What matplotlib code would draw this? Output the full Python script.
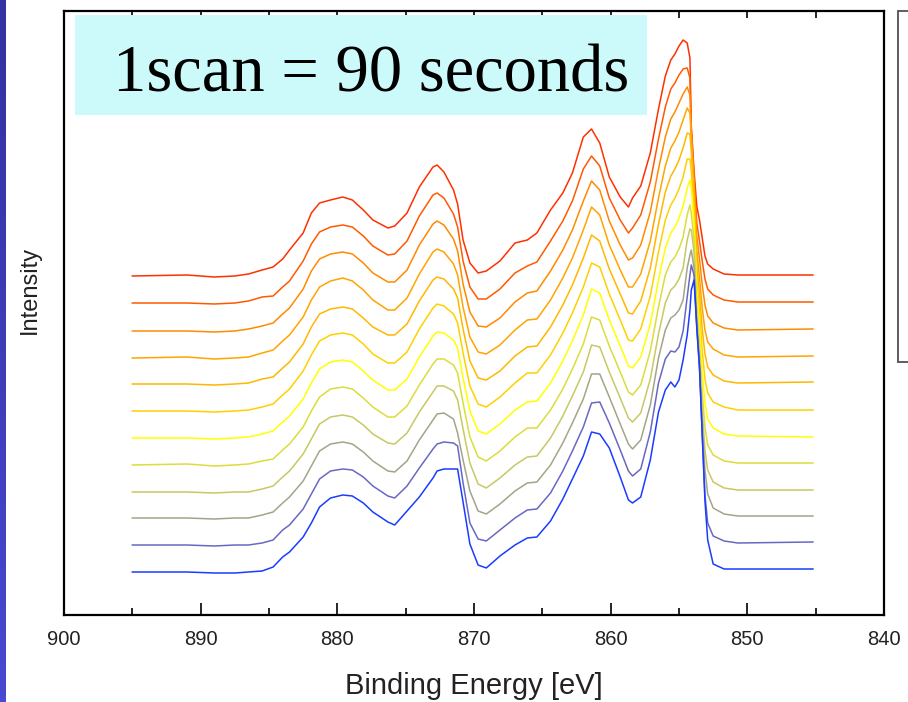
import matplotlib
matplotlib.use("Agg")
import matplotlib.pyplot as plt
import numpy as np
from matplotlib.patches import Rectangle
from matplotlib.ticker import MultipleLocator
from matplotlib.colors import LinearSegmentedColormap

# Binding energy sample points (eV)
energy = [895.0, 891.0, 889.0, 887.5, 886.5, 885.5, 884.7, 884.0, 883.5, 882.5,
          881.9, 881.3, 880.5, 879.6, 878.9, 878.1, 877.4, 876.3, 875.8, 874.9,
          874.0, 873.0, 872.7, 872.2, 871.5, 871.2, 870.8, 870.3, 869.7, 869.1,
          868.1, 867.0, 866.1, 865.4, 864.4, 863.5, 862.8, 862.0, 861.4, 860.8,
          860.1, 859.3, 858.7, 858.4, 857.8, 857.1, 856.5, 856.0, 855.6, 855.3,
          855.0, 854.7, 854.4, 854.2, 854.1, 853.9, 853.7, 853.5, 853.3, 853.1,
          852.9, 852.5, 851.7, 850.7, 845.2]

# Intensity above each scan's own background (arb. units), last scan first
scan12 = [0, 1, -1, 0, 2, 6, 9, 17, 26, 43, 63, 73, 76, 79, 76, 66, 56, 48, 50, 63,
          89, 109, 111, 104, 86, 72, 36, 13, 3, 5, 15, 33, 36, 43, 66, 83, 103, 139, 147, 133,
          99, 79, 69, 78, 90, 123, 167, 200, 216, 222, 230, 236, 233, 218, 150, 105, 70, 56, 38, 20,
          12, 7, 2, 1, 1]
scan11 = [0, 0, -1, 0, 2, 6, 7, 16, 22, 42, 59, 71, 76, 78, 76, 67, 57, 48, 49, 62,
          87, 108, 110, 105, 89, 76, 42, 16, 4, 4, 14, 30, 37, 41, 62, 82, 102, 134, 147, 137,
          105, 83, 70, 75, 88, 121, 164, 196, 214, 220, 228, 234, 235, 225, 170, 125, 80, 62, 42, 24,
          14, 8, 3, 1, 1]
scan10 = [0, 0, -1, 0, 2, 5, 8, 17, 23, 42, 60, 72, 77, 79, 77, 68, 58, 49, 49, 61,
          86, 107, 110, 106, 92, 80, 47, 19, 5, 4, 13, 29, 38, 40, 60, 81, 101, 130, 150, 141,
          110, 86, 71, 73, 86, 119, 162, 194, 212, 219, 228, 237, 244, 236, 200, 150, 95, 72, 46, 26,
          15, 8, 3, 1, 2]
scan9 = [0, 1, -1, 0, 1, 5, 8, 17, 23, 41, 58, 71, 77, 80, 77, 68, 58, 48, 48, 60,
         84, 106, 109, 106, 94, 83, 51, 21, 6, 4, 13, 28, 38, 39, 58, 80, 100, 128, 151, 143,
         113, 88, 71, 71, 84, 117, 160, 192, 210, 217, 226, 238, 250, 245, 220, 170, 108, 80, 50, 28,
         16, 9, 3, 1, 2]
scan8 = [0, 0, -1, 0, 1, 5, 7, 16, 22, 40, 57, 70, 75, 77, 75, 66, 57, 49, 49, 60,
         83, 104, 107, 105, 95, 86, 55, 23, 6, 4, 13, 28, 37, 38, 57, 79, 99, 126, 149, 143,
         115, 90, 71, 70, 83, 116, 160, 192, 208, 215, 224, 236, 251, 250, 232, 188, 120, 90, 55, 30,
         17, 9, 3, 1, 2]
scan7 = [0, 0, -1, 0, 1, 4, 7, 16, 22, 40, 56, 70, 76, 78, 76, 67, 57, 48, 48, 59,
         82, 103, 107, 105, 97, 88, 58, 25, 7, 4, 14, 28, 38, 38, 56, 78, 98, 124, 148, 144,
         117, 91, 71, 70, 82, 115, 159, 191, 206, 213, 222, 234, 252, 252, 240, 200, 132, 100, 60, 32,
         18, 9, 4, 1, 1]
scan6 = [0, 0, -1, 0, 1, 4, 7, 16, 22, 39, 55, 69, 76, 78, 76, 67, 58, 48, 48, 59,
         81, 102, 106, 105, 98, 90, 60, 27, 7, 4, 14, 28, 36, 37, 55, 77, 97, 123, 149, 145,
         118, 92, 72, 70, 81, 114, 158, 190, 205, 211, 220, 232, 250, 258, 250, 215, 148, 110, 66, 35,
         19, 10, 4, 2, 1]
scan5 = [0, 1, -1, 0, 1, 4, 6, 15, 21, 38, 54, 68, 76, 78, 76, 67, 58, 48, 48, 59,
         80, 101, 106, 106, 100, 92, 62, 28, 8, 4, 14, 28, 37, 37, 55, 76, 96, 121, 148, 145,
         119, 93, 73, 70, 80, 114, 158, 190, 203, 208, 216, 228, 250, 260, 252, 225, 160, 120, 72, 38,
         20, 10, 4, 2, 2]
scan4 = [0, 0, -1, 0, 0, 3, 6, 15, 21, 38, 53, 68, 75, 77, 75, 67, 58, 49, 48, 59,
         80, 100, 106, 106, 101, 92, 63, 29, 8, 4, 14, 27, 35, 36, 54, 76, 96, 120, 147, 145,
         120, 94, 74, 70, 79, 113, 158, 189, 202, 206, 213, 224, 252, 263, 262, 240, 175, 135, 82, 42,
         22, 10, 4, 2, 2]
scan3 = [0, 0, -1, 0, 0, 3, 6, 15, 21, 37, 52, 67, 74, 76, 74, 66, 57, 47, 46, 57,
         78, 98, 104, 105, 99, 85, 58, 27, 7, 4, 14, 27, 35, 36, 53, 75, 95, 119, 144, 144,
         121, 94, 74, 69, 78, 113, 160, 188, 200, 203, 208, 218, 250, 263, 268, 250, 190, 150, 95, 48,
         24, 10, 4, 2, 2]
scan2 = [0, 0, -1, 0, 0, 2, 5, 15, 20, 36, 51, 66, 74, 76, 75, 68, 59, 49, 47, 59,
         77, 96, 101, 103, 102, 99, 62, 22, 6, 4, 15, 27, 35, 36, 52, 74, 94, 118, 142, 143,
         122, 95, 74, 69, 76, 113, 162, 186, 194, 193, 198, 214, 248, 270, 280, 270, 220, 180, 110, 50,
         22, 9, 4, 2, 3]
scan1 = [0, 0, -1, -1, 0, 1, 5, 15, 20, 35, 49, 65, 74, 77, 76, 69, 60, 50, 47, 61,
         75, 94, 101, 103, 103, 103, 70, 28, 7, 4, 16, 27, 34, 35, 51, 73, 93, 116, 140, 138,
         124, 95, 72, 69, 75, 112, 160, 182, 190, 185, 192, 212, 237, 262, 282, 292, 245, 204, 137, 71,
         32, 8, 3, 3, 3]

# Vertical stacking offset of each scan (top trace first)
offsets = [339, 312, 284, 257, 231, 204, 177, 150, 123, 97, 70, 43]
scans = [scan12, scan11, scan10, scan9, scan8, scan7, scan6, scan5, scan4, scan3, scan2, scan1]
colors = ["#ff3000", "#ff5a00", "#ff8a00", "#ffa400", "#ffb800", "#ffd000",
          "#ffff00", "#dcdc3c", "#c8c864", "#a4a488", "#6868c4", "#1a3cff"]

W, H = 908, 702
fig = plt.figure(figsize=(W / 100, H / 100), dpi=100)
fig.patch.set_facecolor("white")

ax = fig.add_axes([64 / W, 1 - 615 / H, (884 - 64) / W, (615 - 11) / H])
for spec, off, col in zip(scans, offsets, colors):
    ax.plot(energy, np.asarray(spec) + off, color=col, lw=1.1)

ax.set_xlim(900, 840)
ax.set_ylim(0, 604)
ax.set_yticks([])
ax.xaxis.set_major_locator(MultipleLocator(10))
ax.xaxis.set_minor_locator(MultipleLocator(5))
ax.tick_params(axis="x", which="major", direction="in", length=9, width=1.2,
               labelsize=14.5, pad=11, colors="black")
ax.tick_params(axis="x", which="minor", direction="in", length=5, width=1.2)
for lab in ax.get_xticklabels():
    lab.set_fontfamily("Liberation Sans")
    lab.set_color("#222222")
for sp in ax.spines.values():
    sp.set_linewidth(1.6)

top = ax.secondary_xaxis("top")
top.xaxis.set_major_locator(MultipleLocator(5))
top.tick_params(axis="x", direction="in", length=5, width=1.2, labeltop=False)
top.spines["top"].set_visible(False)

fig.text(474 / W, 1 - 686 / H, "Binding Energy [eV]", ha="center", va="center",
         fontsize=21, family="Liberation Sans", color="#222222")
fig.text(30 / W, 1 - 290 / H, "Intensity", ha="center", va="center", rotation=90,
         fontsize=17, family="Liberation Sans", color="#222222")

# caption panel
fig.patches.append(Rectangle((75 / W, 1 - 115 / H), (647 - 75) / W, 100 / H,
                             transform=fig.transFigure, facecolor="#ccfafa",
                             edgecolor="none", zorder=2))
fig.text(371 / W, 1 - 91 / H, "1scan = 90 seconds", ha="center", va="baseline",
         fontsize=48, family="Liberation Serif", color="black", zorder=3)

# empty legend frame at the right edge
fig.patches.append(Rectangle((898 / W, 1 - 362 / H), 40 / W, 351 / H,
                             transform=fig.transFigure, facecolor="white",
                             edgecolor="#505050", lw=1.3, zorder=2))

# slide-side strip
strip = fig.add_axes([0, 0, 6 / W, 1])
cmap = LinearSegmentedColormap.from_list("strip", ["#3232a0", "#4848d2"])
strip.imshow(np.linspace(0, 1, 100).reshape(-1, 1), aspect="auto", cmap=cmap)
strip.set_axis_off()

fig.savefig("out.png", dpi=100)
